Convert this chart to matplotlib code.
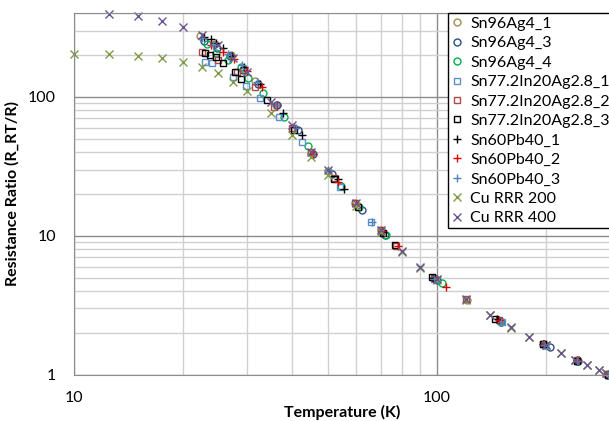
import numpy as np
import matplotlib.pyplot as plt
from matplotlib.ticker import LogLocator, FixedLocator, NullFormatter

plt.rcParams['font.family'] = ['Lato', 'DejaVu Sans']

# temperature (K) and resistance ratio for each sample
sn96_1_T = [22.2, 24.5, 27.0, 29.5, 31.5, 36.0, 40.5, 45.0, 50.0, 59.5, 70.0, 99.0, 121, 149, 197, 243, 295]
sn96_1_R = [275, 240, 200, 160, 130, 88, 60, 39.5, 29.5, 17.3, 11.0, 4.9, 3.47, 2.43, 1.65, 1.27, 1.01]

sn96_3_T = [22.8, 24.8, 26.9, 29.3, 32.2, 36.2, 41.5, 45.5, 51.5, 62.2, 72, 100, 150, 205, 245, 296]
sn96_3_R = [255, 225, 198, 157, 124, 87, 58, 39, 28, 15.3, 10.2, 4.8, 2.4, 1.57, 1.26, 1.0]

sn96_4_T = [23.3, 24.7, 26.6, 28.9, 30.2, 33.1, 37.9, 44.2, 54.3, 61, 72.2, 103, 150, 198, 244, 296]
sn96_4_R = [241, 209, 185, 165, 136, 107, 72, 44.4, 22.8, 16.0, 10.1, 4.54, 2.4, 1.63, 1.25, 1.0]

sn77_1_T = [22.95, 24.0, 27.5, 29.8, 32.5, 36.8, 42.4, 54, 66, 70, 98, 151, 199, 244, 296]
sn77_1_R = [180, 175, 140, 120, 98, 72, 47.6, 22.6, 12.6, 10.8, 4.9, 2.37, 1.62, 1.25, 1.0]

sn77_2_T = [22.6, 25.0, 28.1, 31.5, 35.5, 40, 45, 52, 59.5, 70, 77, 98, 120, 148, 196, 243, 295]
sn77_2_R = [212, 185, 152, 117, 85, 60, 40, 26, 17.3, 11.0, 8.5, 5.0, 3.5, 2.48, 1.66, 1.27, 1.01]

sn77_3_T = [22.95, 23.7, 24.7, 25.8, 27.8, 28.8, 34, 40.5, 52, 60.7, 71, 76.5, 97, 145, 196, 243, 297]
sn77_3_R = [206.5, 201, 193, 177, 152, 134, 95, 58, 25.5, 16.2, 10.5, 8.6, 5.05, 2.51, 1.66, 1.26, 1.0]

sn60_1_T = [22.8, 23.8, 24.6, 25.8, 27.3, 29.5, 32.5, 37.6, 42.4, 53.5, 55.5, 71, 97.5, 146, 196, 244, 298]
sn60_1_R = [272, 260, 246, 224, 197.5, 165, 125, 77, 53, 25.5, 21.6, 10.6, 5.0, 2.5, 1.66, 1.26, 1.0]

sn60_2_T = [23.9, 25.8, 27.6, 30, 32.9, 36.2, 45.5, 53.3, 60, 70.5, 77.9, 106, 148, 197, 243, 298]
sn60_2_R = [237, 210, 187, 155, 117, 87.6, 39, 24.2, 17, 10.9, 8.44, 4.25, 2.45, 1.65, 1.27, 1.0]

sn60_3_T = [22.5, 24.2, 26.5, 29, 32, 36, 41, 50, 66.1, 98.5, 150, 197, 244, 296]
sn60_3_R = [265, 238, 205, 170, 128, 88, 60, 30, 12.6, 4.9, 2.4, 1.64, 1.25, 1.0]

cu200_T = [10, 12.5, 15, 17.5, 20, 22.5, 25, 27.5, 30, 35, 40, 45, 50, 60, 70, 80, 90, 100, 120, 140, 160, 180, 200, 220, 240, 260, 280, 293]
cu200_R = [204, 203, 196, 190, 180, 165, 148, 129, 110, 77, 53, 37.1, 27.4, 16.5, 10.7, 7.6, 5.9, 4.8, 3.45, 2.68, 2.18, 1.86, 1.62, 1.44, 1.28, 1.18, 1.08, 1.02]

cu400_T = [12.5, 15, 17.5, 20, 22.5, 25, 27.5, 30, 35, 40, 45, 50, 60, 70, 80, 90, 100, 120, 140, 160, 180, 200, 220, 240, 260, 280, 293]
cu400_R = [396, 383, 355, 319, 280, 237, 191, 152, 92.5, 62.9, 40.3, 29.8, 17.1, 11.0, 7.8, 5.98, 4.86, 3.48, 2.69, 2.19, 1.87, 1.62, 1.44, 1.28, 1.18, 1.077, 1.02]

series = [
    ('Sn96Ag4_1', sn96_1_T, sn96_1_R, 'o', '#9C8F52'),
    ('Sn96Ag4_3', sn96_3_T, sn96_3_R, 'o', '#2B4C8C'),
    ('Sn96Ag4_4', sn96_4_T, sn96_4_R, 'o', '#00B050'),
    ('Sn77.2In20Ag2.8_1', sn77_1_T, sn77_1_R, 's', '#5B8FD0'),
    ('Sn77.2In20Ag2.8_2', sn77_2_T, sn77_2_R, 's', '#B04A48'),
    ('Sn77.2In20Ag2.8_3', sn77_3_T, sn77_3_R, 's', '#000000'),
    ('Sn60Pb40_1', sn60_1_T, sn60_1_R, '+', '#000000'),
    ('Sn60Pb40_2', sn60_2_T, sn60_2_R, '+', '#E00000'),
    ('Sn60Pb40_3', sn60_3_T, sn60_3_R, '+', '#4F81BD'),
    ('Cu RRR 200', cu200_T, cu200_R, 'x', '#7F9A48'),
    ('Cu RRR 400', cu400_T, cu400_R, 'x', '#6A5590'),
]

fig = plt.figure(figsize=(6.09, 4.21), dpi=100)
ax = fig.add_axes([74/609, 1 - 374.5/421, 536/609, (374.5 - 13.4)/421])

for name, T, R, m, c in series:
    ms = 5.5 if m in ('x', '+') else 5
    ax.plot(T, R, linestyle='none', marker=m, markersize=ms,
            markerfacecolor='none', markeredgecolor=c, markeredgewidth=1.0,
            label=name, clip_on=False)

ax.set_xscale('log')
ax.set_yscale('log')
ax.set_xlim(10, 300)
ax.set_ylim(1, 400)

ax.xaxis.set_major_locator(FixedLocator([10, 100]))
ax.yaxis.set_major_locator(FixedLocator([1, 10, 100]))
ax.xaxis.set_minor_locator(LogLocator(base=10, subs=np.arange(2, 10)))
ax.yaxis.set_minor_locator(LogLocator(base=10, subs=np.arange(2, 10)))
ax.xaxis.set_minor_formatter(NullFormatter())
ax.yaxis.set_minor_formatter(NullFormatter())
ax.set_xticklabels(['10', '100'])
ax.set_yticklabels(['1', '10', '100'])

ax.grid(which='major', color='#8C8C8C', linewidth=1.0)
ax.grid(which='minor', color='#D0D0D0', linewidth=1.0)
ax.set_axisbelow(True)
ax.tick_params(which='both', length=0, labelsize=11.5, colors='#000000')
ax.tick_params(axis='x', pad=12)
ax.tick_params(axis='y', pad=13)
for s in ax.spines.values():
    s.set_color('#8C8C8C')

ax.set_xlabel('Temperature (K)', fontsize=11.5, fontweight='bold', labelpad=0)
ax.set_ylabel('Resistance Ratio (R_RT/R)', fontsize=11.5, fontweight='bold', labelpad=6)

leg = ax.legend(loc='upper left', bbox_to_anchor=(0.698, 1.0), fontsize=11.5,
                frameon=True, fancybox=False, edgecolor='#000000', framealpha=1,
                handlelength=0.7, handletextpad=0.5, borderpad=0.2,
                labelspacing=0.33, borderaxespad=0)
leg.get_frame().set_linewidth(1.0)

fig.savefig('out.png', dpi=100)
